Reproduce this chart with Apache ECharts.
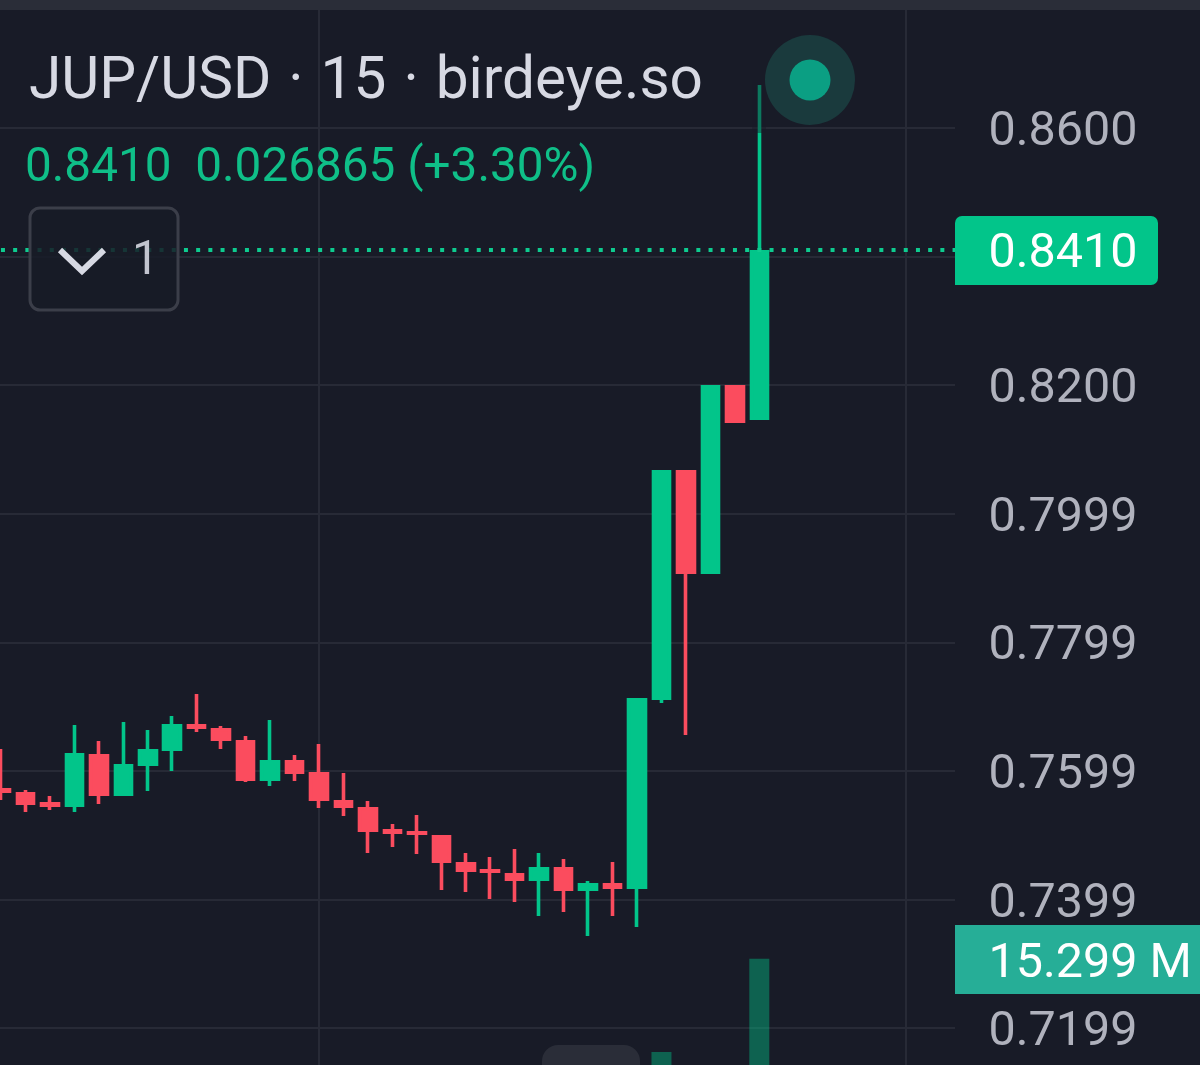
<!DOCTYPE html>
<html lang="en">
<head>
<meta charset="utf-8" />
<title>JUP/USD</title>
<script src="https://cdn.jsdelivr.net/npm/echarts@6/dist/echarts.min.js"></script>
<style>
	html, body { margin: 0; padding: 0; background: #181b27; }
	#chart { width: 1200px; height: 1065px; }
</style>
</head>
<body>
<div id="chart"></div>
<script>
// values, one entry per candle
var opens = [0.75732, 0.75670, 0.75514, 0.75436, 0.76261, 0.75608, 0.76074, 0.76308, 0.76728, 0.76665, 0.76479, 0.75841, 0.76168, 0.75981, 0.75545, 0.75436, 0.75094, 0.75063, 0.75001, 0.74581, 0.74472, 0.74410, 0.74285, 0.74503, 0.74130, 0.74254, 0.74161, 0.77101, 0.80680, 0.79062, 0.82002, 0.81457];
var closes = [0.75654, 0.75468, 0.75436, 0.76276, 0.75608, 0.76105, 0.76339, 0.76728, 0.76650, 0.76463, 0.75841, 0.76168, 0.75950, 0.75530, 0.75421, 0.75047, 0.75016, 0.75001, 0.74565, 0.74425, 0.74410, 0.74285, 0.74503, 0.74130, 0.74254, 0.74161, 0.77133, 0.80680, 0.79062, 0.82002, 0.81411, 0.84102];
var lows = [0.75545, 0.75359, 0.75390, 0.75359, 0.75483, 0.75608, 0.75685, 0.75996, 0.76603, 0.76339, 0.75825, 0.75763, 0.75841, 0.75421, 0.75296, 0.74721, 0.74814, 0.74705, 0.74145, 0.74114, 0.74005, 0.73958, 0.73741, 0.73803, 0.73430, 0.73741, 0.73570, 0.77055, 0.76557, 0.79062, 0.81411, 0.81457];
var highs = [0.76339, 0.75701, 0.75608, 0.76712, 0.76463, 0.76759, 0.76634, 0.76852, 0.77194, 0.76697, 0.76541, 0.76790, 0.76245, 0.76416, 0.75965, 0.75530, 0.75172, 0.75312, 0.75001, 0.74721, 0.74659, 0.74783, 0.74721, 0.74627, 0.74285, 0.74581, 0.77133, 0.80680, 0.80680, 0.82002, 0.82002, 0.86669];
// only two volume bars reach into the visible part of the pane
var volumes = [null, null, null, null, null, null, null, null, null, null, null, null, null, null, null, null, null, null, null, null, null, null, null, null, null, null, null, 8.08, null, null, null, 15.299];

var tickValues = [0.72, 0.74, 0.76, 0.78, 0.80, 0.82, 0.86];
var tickLabels = ['0.7199', '0.7399', '0.7599', '0.7799', '0.7999', '0.8200', '0.8600'];
var lastPrice = 0.8410;
var lastPriceLabel = '0.8410';
var lastVolumeLabel = '15.299 M';
var titleText = 'JUP/USD {dot|·} 15 {dot|·} birdeye.so';
var quoteText = '0.8410  0.026865 (+3.30%)';
var indicatorCount = '1';
var verticalLines = [14, 38]; // slots with a vertical grid line

var UP = '#02c58a';
var DOWN = '#fb4c5e';
var GRID = '#272a36';
var BG = '#181b27';
var WICK = 3.6;

// one empty slot before the first candle and eight after the last one
var LEAD = 1, TRAIL = 8;
var slots = [];
for (var i = 0; i < LEAD + opens.length + TRAIL; i++) slots.push(String(i));

// stroke of the candle adds half a wick to the body on each side, take it back
var inset = (WICK / 2) * 0.00015557;
var candles = ['-'];
var bars = [null];
for (var k = 0; k < opens.length; k++) {
	var up = closes[k] > opens[k];
	candles.push([
		opens[k] + (up ? inset : -inset),
		closes[k] + (up ? -inset : inset),
		lows[k],
		highs[k]
	]);
	bars.push(volumes[k]);
}

var overlay = [
	{ type: 'rect', shape: { x: 0, y: 0, width: 1200, height: 10 }, style: { fill: '#2a2d38' } },
	// top of the long wick is dimmed by the header block in the app
	{ type: 'rect', shape: { x: 752, y: 80, width: 14, height: 53 }, style: { fill: 'rgba(24,27,39,0.45)' } },
	{ type: 'circle', shape: { cx: 810, cy: 80, r: 45 }, style: { fill: '#1a3a3d' } },
	{ type: 'circle', shape: { cx: 810, cy: 80, r: 20.5 }, style: { fill: '#0b9f83' } },
	{ type: 'text', x: 29, y: 83, style: {
		text: titleText, fill: '#d7d9e3', font: '58.5px Roboto', verticalAlign: 'middle',
		rich: { dot: { padding: [0, 2.5], fill: '#d7d9e3', font: '58.5px Roboto' } }
	} },
	{ type: 'text', x: 25, y: 169, style: { text: quoteText, fill: '#0fbf88', font: '47.7px Roboto', verticalAlign: 'middle' } },
	{ type: 'rect', shape: { x: 30, y: 208, width: 148, height: 102, r: 10 }, style: { fill: 'rgba(24,27,39,0.85)', stroke: '#3b3e49', lineWidth: 3 } },
	{ type: 'polyline', shape: { points: [[60, 250], [82, 271], [104, 250]] }, style: { fill: null, stroke: '#d7d9e3', lineWidth: 6 } },
	{ type: 'text', x: 132, y: 262, style: { text: indicatorCount, fill: '#c2c4ce', font: '48px Roboto', verticalAlign: 'middle' } },
	{ type: 'rect', shape: { x: 955, y: 216, width: 203, height: 69, r: [7, 7, 7, 0] }, style: { fill: '#02c58a' } },
	{ type: 'text', x: 988.5, y: 255, style: { text: lastPriceLabel, fill: '#ffffff', font: '48.5px Roboto', verticalAlign: 'middle' } },
	{ type: 'rect', shape: { x: 955, y: 925, width: 245, height: 69 }, style: { fill: '#26ae97' } },
	{ type: 'text', x: 988.5, y: 965, style: { text: lastVolumeLabel, fill: '#ffffff', font: '48.5px Roboto', verticalAlign: 'middle' } },
	{ type: 'rect', shape: { x: 542, y: 1045, width: 98, height: 40, r: 16 }, style: { fill: '#2a2d38' } }
];
overlay.forEach(function (el) { el.z = 10; });

var chart = echarts.init(document.getElementById('chart'), null, { renderer: 'canvas' });
chart.setOption({
	animation: false,
	backgroundColor: BG,
	textStyle: { fontFamily: 'Roboto' },
	grid: { left: -23.45, width: 978.45, top: -0.56, height: 1157.06, outerBoundsMode: 'none' },
	xAxis: {
		type: 'category',
		data: slots,
		boundaryGap: false,
		axisLine: { show: false },
		axisTick: { show: false },
		axisLabel: { show: false },
		splitLine: {
			show: true,
			interval: function (index) { return verticalLines.indexOf(index) >= 0; },
			lineStyle: { color: GRID, width: 2 }
		}
	},
	yAxis: [{
		type: 'value',
		position: 'right',
		min: 0.70,
		max: 0.88,
		interval: 0.02,
		axisLine: { show: false },
		axisTick: { show: false },
		axisLabel: {
			margin: 33.5,
			fontSize: 48.5,
			fontFamily: 'Roboto',
			color: '#b0b2bd',
			// glyphs sit a little high in the line box, this centres them on the grid line
			verticalAlign: 'top',
			lineHeight: 10,
			showMinLabel: false,
			showMaxLabel: false,
			formatter: function (v) {
				for (var i = 0; i < tickValues.length; i++) {
					if (Math.abs(tickValues[i] - v) < 0.001) return tickLabels[i];
				}
				return '';
			}
		},
		splitLine: { show: true, lineStyle: { color: GRID, width: 2 } }
	}, {
		type: 'value',
		show: false,
		min: 0,
		max: 89.5,
		splitLine: { show: false }
	}],
	series: [{
		type: 'bar',
		yAxisIndex: 1,
		data: bars,
		barWidth: 20,
		itemStyle: { color: 'rgba(2,197,138,0.42)' },
		silent: true
	}, {
		type: 'candlestick',
		data: candles,
		barWidth: 17,
		itemStyle: {
			color: UP,
			color0: DOWN,
			borderColor: UP,
			borderColor0: DOWN,
			borderWidth: WICK
		},
		markLine: {
			silent: true,
			symbol: 'none',
			precision: 4,
			label: { show: false },
			lineStyle: { color: '#0ecb8f', type: [4, 8.2], width: 4 },
			data: [{ yAxis: lastPrice }]
		}
	}],
	graphic: { elements: overlay }
});
</script>
</body>
</html>
